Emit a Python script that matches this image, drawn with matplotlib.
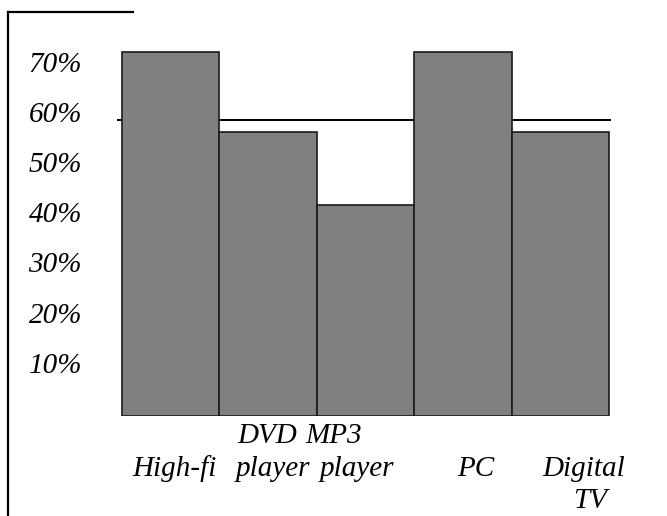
import matplotlib
matplotlib.use("Agg")
import matplotlib.pyplot as plt
from matplotlib.lines import Line2D
from matplotlib import transforms

categories = ["High-fi", "DVD\nplayer", "MP3\nplayer", "PC", "Digital\nTV"]
values = [72.5, 56.5, 42.0, 72.5, 56.5]
reference_line = 59.0
ytick_values = [10, 20, 30, 40, 50, 60, 70]
ytick_labels = ["10%", "20%", "30%", "40%", "50%", "60%", "70%"]

W, H = 667, 516
fig = plt.figure(figsize=(W / 100, H / 100), dpi=100)
fig.patch.set_facecolor("white")

# axes in pixel layout
left_px, right_px, top_px, bottom_px = 117, 611, 12, 416
ax = fig.add_axes([left_px / W, 1 - bottom_px / H, (right_px - left_px) / W, (bottom_px - top_px) / H])
ax.set_xlim(-0.551, 4.52)
ax.set_ylim(0, 80.5)
for s in ax.spines.values():
    s.set_visible(False)
ax.set_xticks([])
ax.set_yticks([])
ax.patch.set_alpha(0)

font = dict(family=["Liberation Serif", "DejaVu Serif"], style="italic", size=21, color="black")

ax.axhline(reference_line, color="black", lw=1.4, zorder=1)
x = list(range(len(categories)))
ax.bar(x, values, width=1.0, color="#808080", edgecolor="#1a1a1a", linewidth=1.2, zorder=2)

# y tick labels
ytr = transforms.blended_transform_factory(ax.transAxes, ax.transData)
for v, lab in zip(ytick_values, ytick_labels):
    ax.text((82 - left_px) / (right_px - left_px), v, lab, transform=ytr, ha="right", va="center", **font)

# category labels (line by line)
xtr = ax.get_xaxis_transform()
line_y = [(bottom_px - 436) / (bottom_px - top_px),
          (bottom_px - 469) / (bottom_px - top_px),
          (bottom_px - 501) / (bottom_px - top_px)]
start_line = [1, 0, 0, 1, 1]
line_offsets = [[0.04], [-0.01, 0.05], [-0.33, -0.09], [0.13], [0.24, 0.31]]
for i, (cat, sl) in enumerate(zip(categories, start_line)):
    for j, part in enumerate(cat.split("\n")):
        ax.text(i + line_offsets[i][j], line_y[sl + j], part, transform=xtr,
                ha="center", va="center", clip_on=False, **font)

# frame fragments
fig.add_artist(Line2D([8 / W, 8 / W], [1 - 12 / H, 0], transform=fig.transFigure, color="black", lw=1.6))
fig.add_artist(Line2D([8 / W, 133 / W], [1 - 12 / H, 1 - 12 / H], transform=fig.transFigure, color="black", lw=1.6))

fig.savefig("out.png", dpi=100)
